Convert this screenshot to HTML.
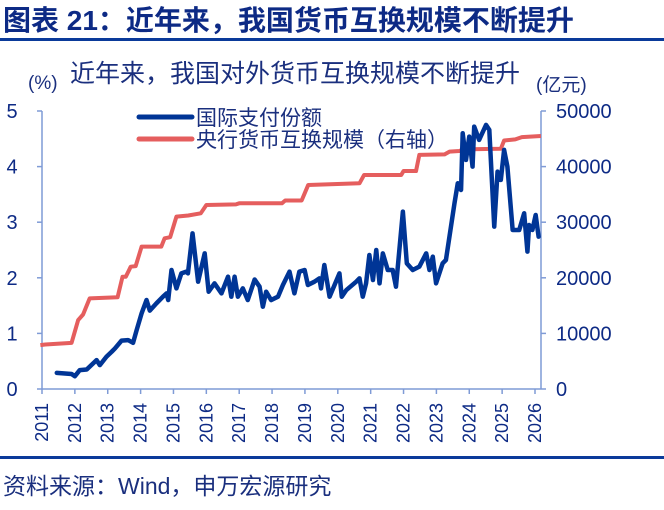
<!DOCTYPE html>
<html><head><meta charset="utf-8"><style>
body{margin:0;background:#fff;}
svg text{font-family:"Liberation Sans","Noto Sans CJK SC",sans-serif;}
</style></head><body>
<svg width="664" height="505" viewBox="0 0 664 505" xmlns="http://www.w3.org/2000/svg">
<text x="3" y="30" font-size="28" font-weight="bold" fill="#0d2a85">图表 21：近年来，我国货币互换规模不断提升</text>
<rect x="0" y="38" width="664" height="3" fill="#0a3a9a"/>
<text x="70" y="82" font-size="25" fill="#1a2f7e">近年来，我国对外货币互换规模不断提升</text>
<text x="28" y="89" font-size="19" fill="#1a2f7e">(%)</text>
<text x="536" y="91" font-size="19" fill="#1a2f7e">(亿元)</text>
<g id="axes"></g>
<g id="series"></g>
<line x1="139" y1="117" x2="192" y2="117" stroke="#003596" stroke-width="5" stroke-linecap="round"/>
<text x="196" y="125" font-size="21" fill="#1a2f7e">国际支付份额</text>
<line x1="139" y1="139" x2="192" y2="139" stroke="#e55e5e" stroke-width="5" stroke-linecap="round"/>
<text x="196" y="147" font-size="21" fill="#1a2f7e">央行货币互换规模（右轴）</text>
<rect x="0" y="456" width="664" height="3" fill="#0a3a9a"/>
<text x="3" y="494" font-size="23" fill="#1a2f7e">资料来源：Wind，申万宏源研究</text>
</svg>
<script>
const yearTicks=[2011,2012,2013,2014,2015,2016,2017,2018,2019,2020,2021,2022,2023,2024,2025,2026];
const leftTicks=[0,1,2,3,4,5];
const rightTicks=[0,10000,20000,30000,40000,50000];
const shareDates=[2011.45,2011.90,2012.00,2012.15,2012.36,2012.66,2012.76,2012.96,2013.12,2013.22,2013.42,2013.62,2013.77,2013.88,2014.03,2014.18,2014.28,2014.48,2014.68,2014.79,2014.84,2014.94,2015.09,2015.24,2015.39,2015.44,2015.58,2015.75,2015.95,2016.07,2016.25,2016.46,2016.66,2016.76,2016.86,2016.96,2017.11,2017.26,2017.47,2017.62,2017.72,2017.82,2017.97,2018.18,2018.33,2018.53,2018.68,2018.83,2018.99,2019.09,2019.29,2019.44,2019.49,2019.59,2019.75,2020.05,2020.12,2020.26,2020.56,2020.66,2020.76,2020.86,2020.96,2021.07,2021.17,2021.27,2021.37,2021.52,2021.67,2021.77,2021.98,2022.10,2022.28,2022.48,2022.69,2022.79,2022.89,2022.99,2023.19,2023.29,2023.55,2023.65,2023.75,2023.80,2023.90,2024.00,2024.10,2024.15,2024.30,2024.51,2024.61,2024.76,2024.86,2024.96,2025.06,2025.16,2025.32,2025.52,2025.67,2025.77,2025.82,2025.92,2026.02,2026.11];
const shareValues=[0.29,0.27,0.23,0.34,0.35,0.52,0.43,0.58,0.67,0.73,0.87,0.88,0.83,1.06,1.36,1.60,1.41,1.54,1.66,1.72,1.60,2.14,1.81,2.08,2.11,2.08,2.80,1.93,2.44,1.75,1.90,1.72,2.02,1.66,2.02,1.66,1.81,1.60,1.97,1.84,1.48,1.75,1.60,1.66,1.87,2.11,1.72,2.11,2.14,1.87,1.93,1.99,1.81,2.23,1.66,2.08,1.66,1.78,1.93,1.99,1.66,1.90,2.41,1.96,2.50,1.90,2.44,2.14,2.14,1.84,3.19,2.26,2.14,2.20,2.44,2.14,2.38,1.90,2.26,2.32,3.34,3.70,3.58,4.60,4.12,4.54,4.00,4.72,4.48,4.75,4.66,2.92,3.91,3.76,4.30,4.00,2.86,2.86,3.16,2.47,2.95,2.86,3.13,2.74];
const swapDates=[2010.95,2011.10,2011.90,2012.10,2012.25,2012.45,2013.30,2013.45,2013.55,2013.70,2013.85,2014.03,2014.63,2014.73,2014.90,2015.09,2015.45,2015.83,2016.00,2016.90,2017.00,2018.30,2018.40,2018.90,2019.10,2020.66,2020.80,2021.93,2022.00,2022.38,2022.48,2023.25,2023.40,2023.70,2023.80,2024.96,2025.06,2025.40,2025.60,2026.18];
const swapValues=[7900,8000,8300,12400,13400,16300,16500,20200,20200,22000,22100,25600,25600,27100,27300,31000,31200,31600,33100,33200,33400,33400,33900,33900,36700,37000,38500,38500,39200,39200,42100,42200,42700,42800,43100,43200,44700,44900,45300,45500];
const X0=42,X1=535,Y0=389,Y1=111;
const xs=y=>X0+(y-2011)*(X1-X0)/15;
const yl=v=>Y0-v*(Y0-Y1)/5;
const yr=v=>Y0-v*(Y0-Y1)/50000;
const NS="http://www.w3.org/2000/svg";
function mk(tag,attrs,parent){const e=document.createElementNS(NS,tag);for(const k in attrs)e.setAttribute(k,attrs[k]);parent.appendChild(e);return e;}
const ax=document.getElementById('axes'),se=document.getElementById('series');
const axc="#7f9bd6",tc="#0d2a85";
let e;
e=mk('line',{x1:X0,y1:Y1,x2:X0,y2:Y0,stroke:axc,'stroke-width':1.5},ax);


e=mk('line',{x1:541,y1:Y1,x2:541,y2:Y0,stroke:axc,'stroke-width':1.5},ax);


e=mk('line',{x1:X0,y1:Y0,x2:541,y2:Y0,stroke:axc,'stroke-width':1.5},ax);


leftTicks.forEach(v=>{
 mk('line',{x1:X0-5,y1:yl(v),x2:X0,y2:yl(v),stroke:axc,'stroke-width':1.5},ax);
 const t=mk('text',{x:12,y:yl(v)+7,'font-size':20,fill:tc,'text-anchor':'middle'},ax);t.textContent=v;
 
 
});
rightTicks.forEach(v=>{
 mk('line',{x1:541,y1:yr(v),x2:546,y2:yr(v),stroke:axc,'stroke-width':1.5},ax);
 const t=mk('text',{x:556,y:yr(v)+7,'font-size':20,fill:tc},ax);t.textContent=v;
 
 
});
yearTicks.forEach(y=>{
 const x=xs(y);
 mk('line',{x1:x,y1:Y0,x2:x,y2:Y0+5,stroke:axc,'stroke-width':1.5},ax);
 const t=mk('text',{x:0,y:0,'font-size':18,fill:tc,'text-anchor':'end',transform:`translate(${x+6},403) rotate(-90)`},ax);t.textContent=y;
 
 
});
e=mk('polyline',{points:swapDates.map((d,i)=>xs(d)+','+yr(swapValues[i])).join(' '),fill:'none',stroke:'#e55e5e','stroke-width':4,'stroke-linejoin':'round'},se);


e=mk('polyline',{points:shareDates.map((d,i)=>xs(d)+','+yl(shareValues[i])).join(' '),fill:'none',stroke:'#003596','stroke-width':4.5,'stroke-linejoin':'round','stroke-linecap':'round'},se);


</script>
</body></html>
